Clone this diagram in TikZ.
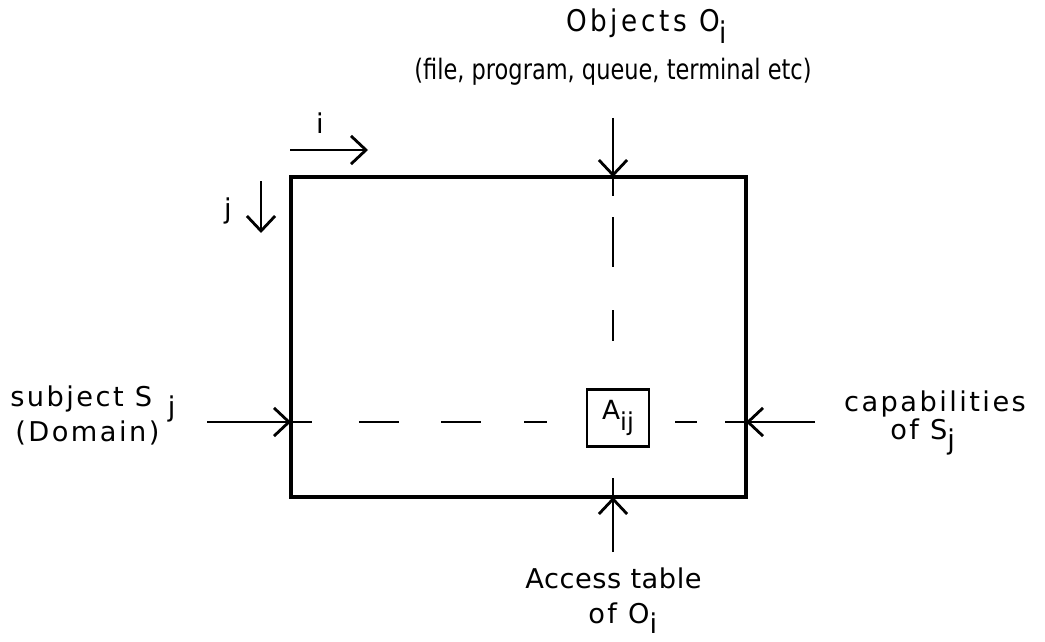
\documentclass[tikz,border=0pt]{standalone}
\usepackage{fontspec}
\setmainfont{DejaVu Sans}
\usetikzlibrary{arrows.meta, positioning, calc}

\newcommand{\lowsub}[1]{\raisebox{-0.7ex}{#1}}

\begin{document}
\begin{tikzpicture}[x=0.02cm, y=-0.02cm,
    every node/.style={font=\fontsize{15.5}{18}\selectfont\addfontfeatures{LetterSpace=9}, inner sep=0pt},
    toptext/.style={font=\fontsize{16}{18}\selectfont\addfontfeatures{FakeStretch=0.8}},
    topspaced/.style={font=\fontsize{17}{19}\selectfont\addfontfeatures{FakeStretch=0.88, LetterSpace=12}},
    tighttext/.style={font=\fontsize{15.5}{18}\selectfont\addfontfeatures{LetterSpace=2}},
    frame/.style={line width=2.2pt},
    arr/.style={line width=1.6pt, -{Straight Barb[length=8.5pt, width=16pt, line width=1.6pt]}},
    dashline/.style={line width=1.6pt}]
      \useasboundingbox (0,0) rectangle (1045,642);
      % Access matrix frame
      \coordinate (tl) at (291,177);
      \coordinate (br) at (746,497);
      \draw[frame] (tl) rectangle (br);
      \coordinate (top) at (613,177);
      \coordinate (bot) at (613,497);
      \coordinate (lft) at (291,422);
      \coordinate (rgt) at (746,422);
      % Entry A_ij
      \node[draw, line width=1.4pt, minimum width=1.24cm, minimum height=1.14cm,
            font=\fontsize{15}{17}\selectfont] (aij) at (618,418) {A\raisebox{-0.8ex}{\fontsize{14}{16}\selectfont ij}};
      % Dashed row and column
      \draw[dashline, dash pattern={on 10.8pt off 12pt on 28.5pt off 24.5pt on 17.6pt off 40pt}]
        (top) -- (top |- aij.north);
      \draw[dashline, dash pattern={on 10.8pt off 40pt}] (bot) -- (bot |- aij.south);
      \draw[dashline, dash pattern={on 12pt off 26.7pt on 22.8pt off 23.9pt on 22.8pt off 24.5pt on 13.1pt off 40pt}]
        (lft) -- (lft -| aij.west);
      \draw[dashline, dash pattern={on 12pt off 16pt on 12.5pt off 40pt}] (rgt) -- (rgt -| aij.east);
      % Index arrows
      \coordinate (i0) at (290,150);
      \coordinate (i1) at (368,150);
      \draw[arr] (i0) -- (i1);
      \node[anchor=base] (ilab) at (320,133) {i};
      \coordinate (j0) at (261,181);
      \coordinate (j1) at (261,233);
      \draw[arr] (j0) -- (j1);
      \node[anchor=base] (jlab) at (228,218) {j};
      % Objects (top)
      \node[topspaced, anchor=base west] (obj) at (566,32) {Objects O\lowsub{i}};
      \node[toptext, anchor=base] (objkinds) at (613,80) {(file, program, queue, terminal etc)};
      \coordinate (topin) at (613,118);
      \draw[arr] (topin) -- (top);
      % Subject (left)
      \node[anchor=base west] (subj) at (10,406) {subject S\hspace{9pt}\lowsub{j}};
      \node[anchor=base west] (dom) at (15,441) {(Domain)};
      \coordinate (lftin) at (207,422);
      \draw[arr] (lftin) -- (lft);
      % Capabilities (right)
      \node[anchor=base] (cap) at (935,411) {capabilities};
      \node[anchor=base west] (capof) at (890,439) {of S\lowsub{j}};
      \coordinate (rgtin) at (815,422);
      \draw[arr] (rgtin) -- (rgt);
      % Access table (bottom)
      \node[tighttext, anchor=base west] (acc) at (525,588) {Access table};
      \node[anchor=base west] (accof) at (588,623) {of O\lowsub{i}};
      \coordinate (botin) at (613,552);
      \draw[arr] (botin) -- (bot);
    \end{tikzpicture}
\end{document}
